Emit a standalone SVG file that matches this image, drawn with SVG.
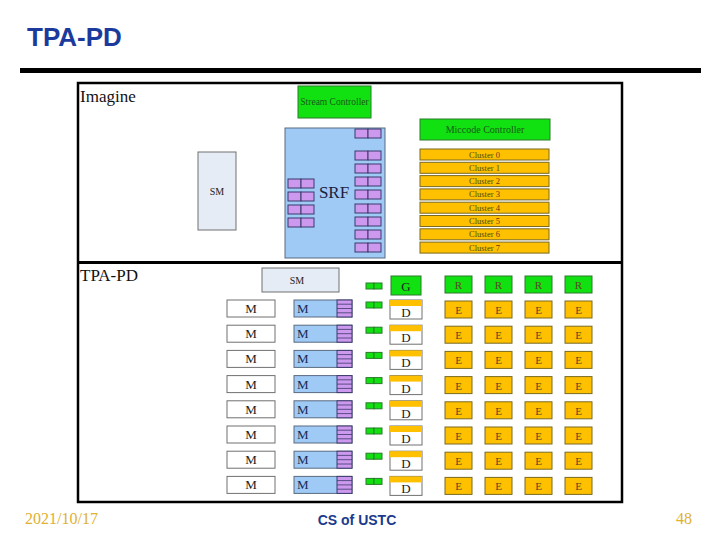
<svg xmlns="http://www.w3.org/2000/svg" width="720" height="540" viewBox="0 0 720 540">
<style>
.ser{font-family:"Liberation Serif","DejaVu Serif",serif}
.sm{fill:#e6ecf5;stroke:#707070;stroke-width:1}
.grn{fill:#11e011;stroke:#2a7a2a;stroke-width:1}
.org{fill:#ffc000;stroke:#7a6a20;stroke-width:1}
.pur{fill:#cc99ee;stroke:#3a3a6a;stroke-width:1}
.blu{fill:#9fcaf6;stroke:#5a6a80;stroke-width:1}
.wht{fill:#ffffff;stroke:#707070;stroke-width:1}
.lbl{font-family:"Liberation Serif","DejaVu Serif",serif;font-size:13px;text-anchor:middle;fill:#222}
.elbl{font-family:"Liberation Serif","DejaVu Serif",serif;font-size:11px;text-anchor:middle;fill:#5a4a20}
.clbl{font-family:"Liberation Serif","DejaVu Serif",serif;font-size:8.5px;text-anchor:middle;fill:#5a4010}
</style>
<defs>
<g id="pair"><rect class="pur" x="0" y="0" width="13" height="9"/><rect class="pur" x="13" y="0" width="13" height="9"/></g>
<g id="gpair"><rect class="grn" x="0" y="0" width="8" height="6"/><rect class="grn" x="8" y="0" width="8" height="6"/></g>
<g id="row">
<rect class="wht" x="227" y="0" width="48" height="17"/>
<text class="lbl" x="251" y="13">M</text>
<rect class="blu" x="294" y="0" width="58" height="17"/>
<rect x="337" y="0" width="15" height="17" fill="#cc99ee" stroke="#3a3a6a" stroke-width="1"/>
<path d="M337 4.2H352M337 8.5H352M337 12.8H352" stroke="#3a3a6a" stroke-width="0.8"/>
<text x="297" y="13" font-family="Liberation Serif,serif" font-size="13" fill="#1a2a50">M</text>
<use href="#gpair" x="366" y="2"/>
<rect class="wht" x="390" y="0" width="32" height="19"/>
<rect x="390" y="0" width="32" height="6" fill="#ffc000"/>
<text class="lbl" x="406" y="17">D</text>
<rect class="org" x="445" y="1" width="27" height="17"/><text class="elbl" x="458.5" y="14">E</text>
<rect class="org" x="485" y="1" width="27" height="17"/><text class="elbl" x="498.5" y="14">E</text>
<rect class="org" x="525" y="1" width="27" height="17"/><text class="elbl" x="538.5" y="14">E</text>
<rect class="org" x="565" y="1" width="27" height="17"/><text class="elbl" x="578.5" y="14">E</text>
</g>
</defs>
<rect width="720" height="540" fill="#ffffff"/>
<text x="27" y="46" font-family="Liberation Sans,Arial,sans-serif" font-weight="bold" font-size="26" fill="#1b3a9c">TPA-PD</text>
<rect x="20" y="68" width="681" height="5" fill="#000"/>

<g id="frame">
<rect x="78" y="83" width="544" height="419" fill="#fff" stroke="#000" stroke-width="2.5"/>
<rect x="78" y="261" width="544" height="3" fill="#000"/>
</g>

<g id="imagine">
<text class="ser" x="80" y="102" font-size="17" fill="#111">Imagine</text>
<g id="stream-controller"><rect class="grn" x="298" y="86" width="73" height="32"/>
<text x="334.5" y="105" class="ser" font-size="9.5" text-anchor="middle" fill="#1a5a1a">Stream Controller</text></g>
<g id="sm1"><rect class="sm" x="198" y="152" width="38" height="78"/>
<text class="ser" x="217" y="195" font-size="10" text-anchor="middle" fill="#222">SM</text></g>
<g id="srf">
<rect class="blu" x="285" y="128" width="100" height="130"/>
<text class="ser" x="334" y="198" font-size="17" text-anchor="middle" fill="#1a2040">SRF</text>
<use href="#pair" x="355" y="129"/>
<use href="#pair" x="355" y="151"/><use href="#pair" x="355" y="164"/><use href="#pair" x="355" y="177"/><use href="#pair" x="355" y="190"/>
<use href="#pair" x="355" y="204"/><use href="#pair" x="355" y="217"/><use href="#pair" x="355" y="230"/><use href="#pair" x="355" y="243"/>
<use href="#pair" x="288" y="179"/><use href="#pair" x="288" y="192"/><use href="#pair" x="288" y="205"/><use href="#pair" x="288" y="218"/>
</g>
<g id="microcode-controller"><rect class="grn" x="420" y="119" width="130" height="21"/>
<text x="485" y="133" class="ser" font-size="10" text-anchor="middle" fill="#1a5a1a">Miccode Controller</text></g>
<g id="clusters">
<rect class="org" x="420" y="149" width="129" height="11"/><text class="clbl" x="484.5" y="157.5">Cluster 0</text>
<rect class="org" x="420" y="162.3" width="129" height="11"/><text class="clbl" x="484.5" y="170.8">Cluster 1</text>
<rect class="org" x="420" y="175.6" width="129" height="11"/><text class="clbl" x="484.5" y="184.1">Cluster 2</text>
<rect class="org" x="420" y="188.9" width="129" height="11"/><text class="clbl" x="484.5" y="197.4">Cluster 3</text>
<rect class="org" x="420" y="202.2" width="129" height="11"/><text class="clbl" x="484.5" y="210.7">Cluster 4</text>
<rect class="org" x="420" y="215.5" width="129" height="11"/><text class="clbl" x="484.5" y="224">Cluster 5</text>
<rect class="org" x="420" y="228.8" width="129" height="11"/><text class="clbl" x="484.5" y="237.3">Cluster 6</text>
<rect class="org" x="420" y="242.1" width="129" height="11"/><text class="clbl" x="484.5" y="250.6">Cluster 7</text>
</g>
</g>

<g id="tpapd">
<text class="ser" x="80" y="281" font-size="17" fill="#111">TPA-PD</text>
<g id="sm2"><rect class="sm" x="262" y="268" width="77" height="24"/>
<text class="ser" x="297" y="284" font-size="10" text-anchor="middle" fill="#222">SM</text></g>
<g id="top-row">
<use href="#gpair" x="366" y="283"/>
<rect class="grn" x="391" y="276" width="30" height="19"/><text class="lbl" x="406" y="291" fill="#2a6a2a">G</text>
<rect class="grn" x="445" y="276" width="27" height="17"/><text class="elbl" x="458.5" y="289" fill="#1a4a1a">R</text>
<rect class="grn" x="485" y="276" width="27" height="17"/><text class="elbl" x="498.5" y="289" fill="#1a4a1a">R</text>
<rect class="grn" x="525" y="276" width="27" height="17"/><text class="elbl" x="538.5" y="289" fill="#1a4a1a">R</text>
<rect class="grn" x="565" y="276" width="27" height="17"/><text class="elbl" x="578.5" y="289" fill="#1a4a1a">R</text>
</g>
<g id="row0"><use href="#row" y="300"/></g>
<g id="row1"><use href="#row" y="325.2"/></g>
<g id="row2"><use href="#row" y="350.4"/></g>
<g id="row3"><use href="#row" y="375.6"/></g>
<g id="row4"><use href="#row" y="400.8"/></g>
<g id="row5"><use href="#row" y="426"/></g>
<g id="row6"><use href="#row" y="451.2"/></g>
<g id="row7"><use href="#row" y="476.4"/></g>
</g>
<g id="connectors"/>

<text x="25" y="524" font-family="Liberation Serif,serif" font-size="16" fill="#e0b030">2021/10/17</text>
<text x="357" y="525" font-family="Liberation Sans,Arial,sans-serif" font-weight="bold" font-size="14" text-anchor="middle" fill="#1b3a8c">CS of USTC</text>
<text x="692" y="524" font-family="Liberation Serif,serif" font-size="16" text-anchor="end" fill="#e0b030">48</text>
</svg>
